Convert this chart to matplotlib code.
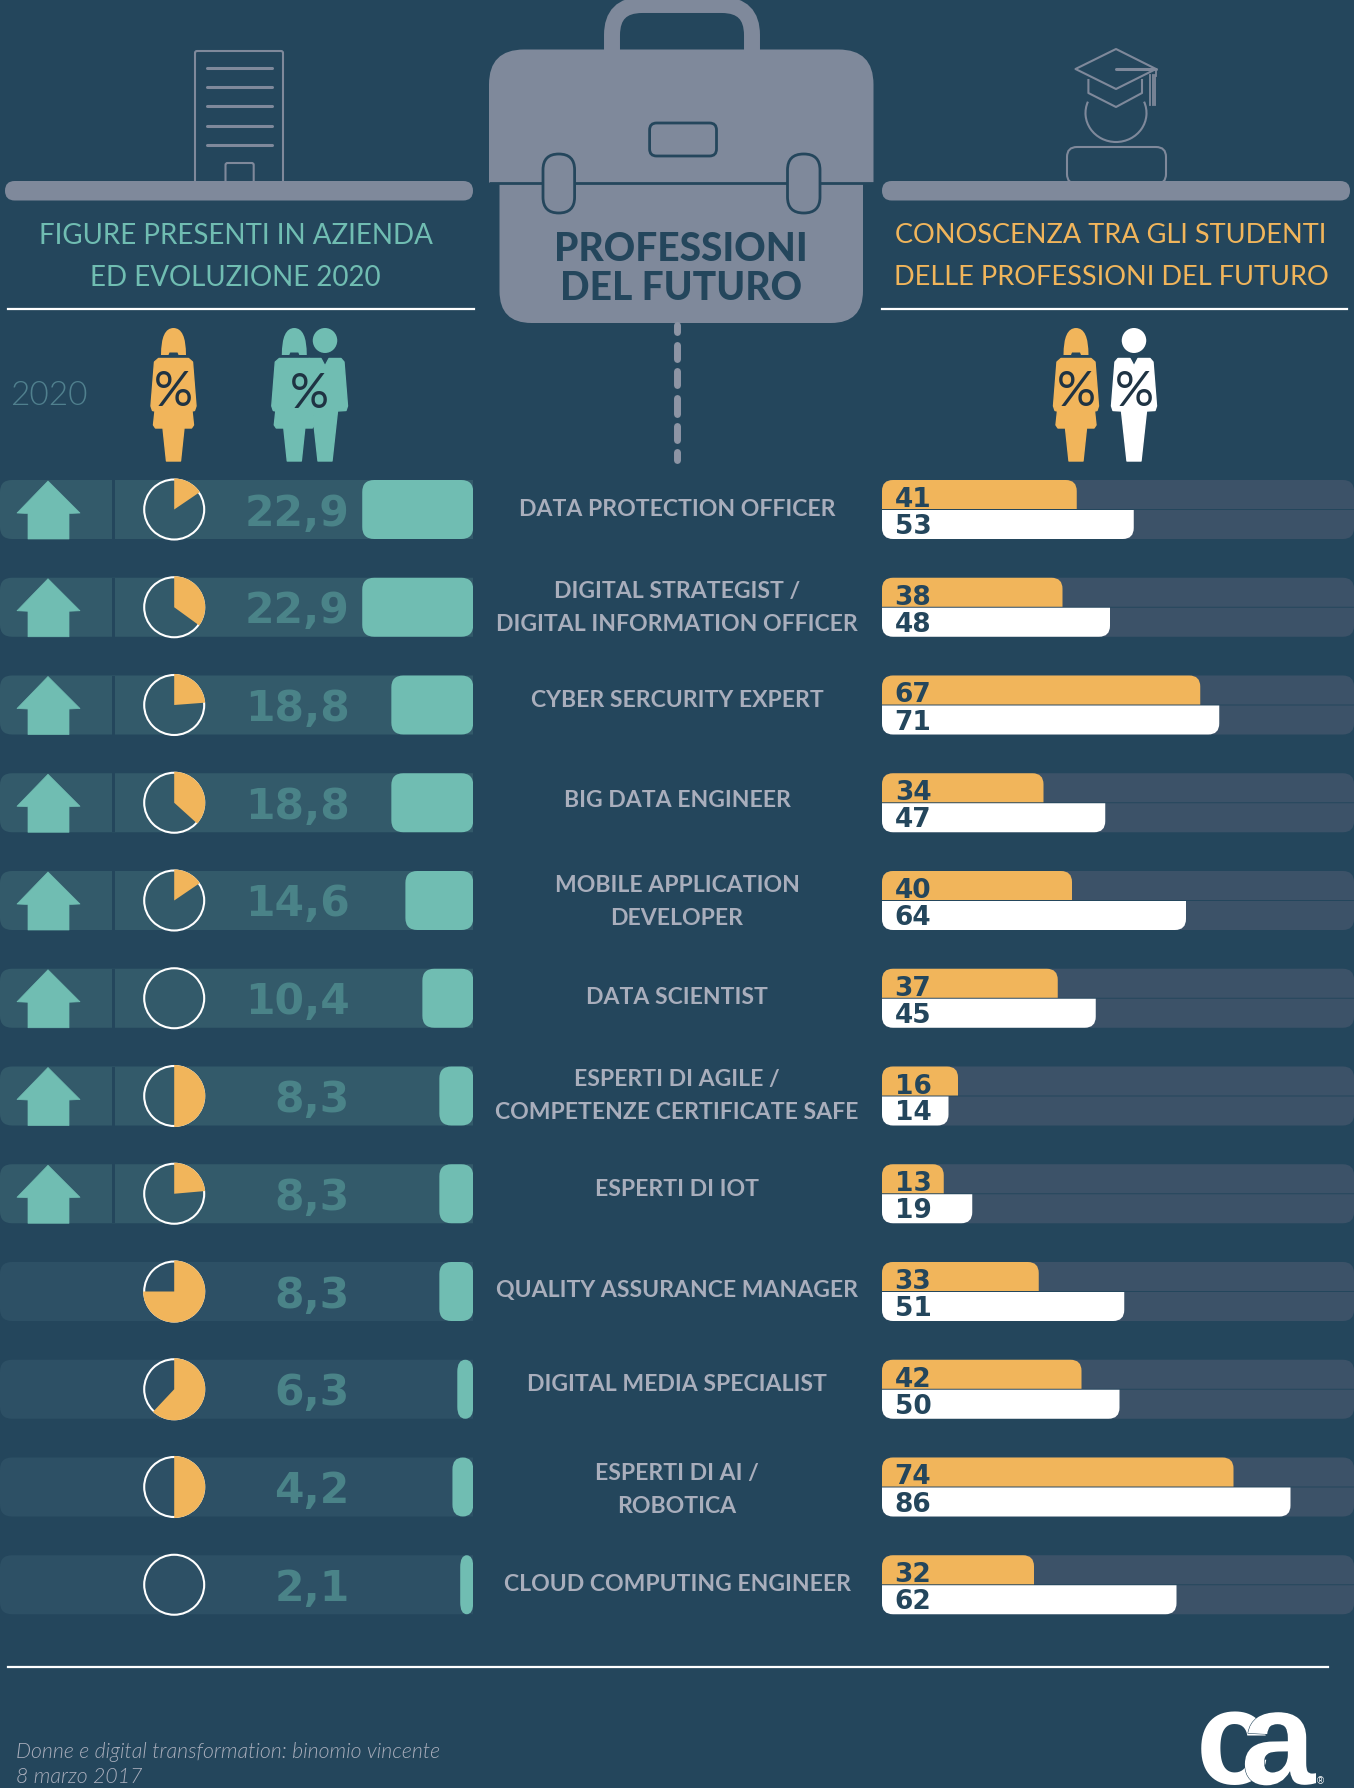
import matplotlib
matplotlib.use("Agg")
import numpy as np
import matplotlib.pyplot as plt
from matplotlib.path import Path
from matplotlib.patches import PathPatch, Polygon, Rectangle, Circle, Ellipse, Arc
import matplotlib.patheffects as pe

# ---------- data ----------
professions = [
    "DATA PROTECTION OFFICER",
    "DIGITAL STRATEGIST /\nDIGITAL INFORMATION OFFICER",
    "CYBER SERCURITY EXPERT",
    "BIG DATA ENGINEER",
    "MOBILE APPLICATION\nDEVELOPER",
    "DATA SCIENTIST",
    "ESPERTI DI AGILE /\nCOMPETENZE CERTIFICATE SAFE",
    "ESPERTI DI IOT",
    "QUALITY ASSURANCE MANAGER",
    "DIGITAL MEDIA SPECIALIST",
    "ESPERTI DI AI /\nROBOTICA",
    "CLOUD COMPUTING ENGINEER",
]
presence_2020 = ["22,9", "22,9", "18,8", "18,8", "14,6", "10,4", "8,3", "8,3", "8,3", "6,3", "4,2", "2,1"]
# bar lengths as drawn in the source (they do not follow the printed labels exactly)
presence_bar_drawn = [22.9, 22.9, 16.9, 16.9, 14.0, 10.5, 7.0, 7.0, 7.0, 3.3, 4.3, 2.7]
women_share = [0.155, 0.35, 0.238, 0.367, 0.155, 0.0, 0.5, 0.236, 0.75, 0.62, 0.5, 0.0]
growing = [True] * 8 + [False] * 4
students_women = [41, 38, 67, 34, 40, 37, 16, 13, 33, 42, 74, 32]
students_men = [53, 48, 71, 47, 64, 45, 14, 19, 51, 50, 86, 62]

# ---------- style / layout ----------
BG = "#24465C"
BAND_A = "#335A6A"
BAND_B = "#2D5065"
BAND_R = "#3C5268"
TEAL = "#70BDB2"
ORANGE = "#F1B55B"
GRAY = "#7F899B"
LABEL = "#A9AEBC"
NUM = "#4A8388"
W, H = 1354, 1788
ROW0, PITCH, HALF = 509.5, 97.75, 29.5
LEFT_RIGHT_EDGE = 473.3
LEFT_SCALE = 4.85      # px per unit
RIGHT_X0 = 882.0
RIGHT_SCALE = 4.75     # px per unit
label_nudge = [-2, -1.5, -6, -4.5, 0, -3, -2, -6, -2.5, -6.5, 1.5, -2.5]

NARROW = "Lato"
NUMFONT = "DejaVu Sans"

fig = plt.figure(figsize=(W / 100, H / 100), dpi=100, facecolor=BG)


def px_axes(x0, y0, x1, y1, z=1):
    a = fig.add_axes([x0 / W, 1 - y1 / H, (x1 - x0) / W, (y1 - y0) / H], zorder=z)
    a.patch.set_alpha(0)
    a.set_axis_off()
    return a


ax = px_axes(0, 0, W, H, z=5)
ax.set_xlim(0, W)
ax.set_ylim(H, 0)


def rpath(x0, x1, y0, y1, rx, ry, corners=(1, 1, 1, 1)):
    """Rectangle path; corners = (y0-x0, y0-x1, y1-x1, y1-x0) rounded flags."""
    sx = 1 if x1 >= x0 else -1
    sy = 1 if y1 >= y0 else -1
    rx, ry = abs(rx) * sx, abs(ry) * sy
    v, c = [], []

    def add(p, code):
        v.append(p)
        c.append(code)

    if corners[0]:
        add((x0, y0 + ry), Path.MOVETO); add((x0, y0), Path.CURVE3); add((x0 + rx, y0), Path.CURVE3)
    else:
        add((x0, y0), Path.MOVETO)
    if corners[1]:
        add((x1 - rx, y0), Path.LINETO); add((x1, y0), Path.CURVE3); add((x1, y0 + ry), Path.CURVE3)
    else:
        add((x1, y0), Path.LINETO)
    if corners[2]:
        add((x1, y1 - ry), Path.LINETO); add((x1, y1), Path.CURVE3); add((x1 - rx, y1), Path.CURVE3)
    else:
        add((x1, y1), Path.LINETO)
    if corners[3]:
        add((x0 + rx, y1), Path.LINETO); add((x0, y1), Path.CURVE3); add((x0, y1 - ry), Path.CURVE3)
    else:
        add((x0, y1), Path.LINETO)
    add((x0, y0), Path.CLOSEPOLY)
    return Path(v, c)


def box(a, x0, x1, y0, y1, r, fc="none", ec="none", lw=0, corners=(1, 1, 1, 1), z=2, ry=None):
    p = PathPatch(rpath(x0, x1, y0, y1, r, r if ry is None else ry, corners), fc=fc, ec=ec, lw=lw, zorder=z)
    a.add_patch(p)
    return p


def ptxt(x, y_center, s, px_cap, cap_ratio=0.72, **kw):
    """text with capitals centred on y_center; size from cap height in px."""
    em = px_cap / cap_ratio
    kw.setdefault("ha", "center")
    return ax.text(x, y_center + px_cap / 2, s, fontsize=em * 0.72, va="baseline", **kw)


# ---------- top icons ----------
LW2 = 1.5
# building
box(ax, 195, 283, 51, 184, 2, ec=GRAY, lw=LW2)
for y in [67.5, 86.5, 106, 125.5, 144.5]:
    ax.plot([207, 272], [y, y], color=GRAY, lw=2.2, solid_capstyle="round")
box(ax, 225.5, 253.7, 163, 184, 2, ec=GRAY, lw=LW2)
# shelves
box(ax, 5, 473, 181, 200.5, 9.7, fc=GRAY, z=3)
box(ax, 882, 1350, 181, 200.5, 9.7, fc=GRAY, z=3)
# graduate
ax.add_patch(Polygon([(1075.5, 69), (1116, 49), (1156, 69), (1116, 89)], closed=True, fc="none", ec=GRAY, lw=LW2, joinstyle="round"))
ax.plot([1116, 1156], [69, 69], color=GRAY, lw=2.2, solid_capstyle="round")
ax.plot([1088.4, 1088.4, 1116, 1142, 1142], [80, 93, 107, 93, 80], color=GRAY, lw=LW2, solid_joinstyle="round")
for x in [1150, 1152.5, 1155]:
    ax.plot([x, x], [75, 105], color=GRAY, lw=1.3)
ax.plot([1156, 1156], [69, 76], color=GRAY, lw=1.3)
ax.add_patch(Arc((1116, 113), 61, 58, theta1=-22, theta2=202, ec=GRAY, lw=LW2))
box(ax, 1067, 1166, 147, 184, 10, ec=GRAY, lw=LW2)

# briefcase
ax.add_patch(PathPatch(rpath(612, 752, 5, 60, 30, 30, (1, 1, 0, 0)), fc="none", ec=GRAY, lw=11.5, zorder=1))
box(ax, 489, 873.5, 49.5, 183, 35, fc=GRAY, corners=(1, 1, 0, 0), z=2)
box(ax, 499.5, 863, 183, 323, 32, fc=GRAY, corners=(0, 0, 1, 1), z=2)
ax.plot([489, 873.5], [183, 183], color=BG, lw=2, zorder=3, solid_capstyle="butt")
box(ax, 543, 574.6, 154, 213, 15.8, fc=GRAY, ec=BG, lw=2, z=4)
box(ax, 787.5, 820, 154, 213, 16, fc=GRAY, ec=BG, lw=2, z=4)
box(ax, 649.6, 716.5, 123, 156, 7, fc=GRAY, ec=BG, lw=2, z=4)
ptxt(681, 247, "PROFESSIONI", 28, family="Lato", fontweight=900, color=BG, zorder=5)
ptxt(681, 285.5, "DEL FUTURO", 28, family="Lato", fontweight=900, color=BG, zorder=5)
for a, b in [(322, 335), (342, 362), (368, 388), (395, 417), (423, 443), (449, 463)]:
    ax.plot([677, 677], [a + 3, b - 3], color="#8D95A5", lw=5, solid_capstyle="round")

# titles
TW = 400
ptxt(235.5, 233.5, "FIGURE PRESENTI IN AZIENDA", 20, family=NARROW, fontweight=TW, color=TEAL)
ptxt(235.5, 275.5, "ED EVOLUZIONE 2020", 20, family=NARROW, fontweight=TW, color=TEAL)
ptxt(1111, 233.5, "CONOSCENZA TRA GLI STUDENTI", 19.5, family=NARROW, fontweight=TW, color=ORANGE)
ptxt(1111, 275.5, "DELLE PROFESSIONI DEL FUTURO", 19.5, family=NARROW, fontweight=TW, color=ORANGE)
ax.plot([8, 474], [309, 309], color="white", lw=1.6)
ax.plot([882, 1347], [309, 309], color="white", lw=1.6)
ax.plot([8, 1328], [1667, 1667], color="white", lw=1.6)
ptxt(49, 393, "2020", 24, family=NARROW, fontweight=300, color="#50808E")


# ---------- people ----------
def woman(cx, color):
    hair = Path(
        [(cx - 12.5, 355), (cx - 12.5, 328), (cx, 328), (cx + 12.5, 328), (cx + 12.5, 355),
         (cx + 5, 355), (cx + 4, 352.5), (cx - 4, 352.5), (cx - 5, 355), (cx - 12.5, 355)],
        [Path.MOVETO, Path.CURVE3, Path.CURVE3, Path.CURVE3, Path.CURVE3,
         Path.LINETO, Path.LINETO, Path.LINETO, Path.LINETO, Path.CLOSEPOLY])
    ax.add_patch(PathPatch(hair, fc=color, ec="none"))
    pts = [(-15, 358.5), (15, 358.5), (19, 362), (22.5, 406), (21, 410.5), (18.5, 411), (20, 425), (18, 428),
           (10.5, 428), (7, 461), (-7, 461), (-10.5, 428), (-18, 428), (-20, 425), (-18.5, 411), (-21, 410.5),
           (-22.5, 406), (-19, 362)]
    ax.add_patch(Polygon([(cx + a, b) for a, b in pts], closed=True, fc=color, ec=color, lw=1, joinstyle="round"))


def man(cx, color):
    ax.add_patch(Ellipse((cx, 340.5), 24.5, 25, fc=color, ec="none"))
    pts = [(-16, 358.5), (-4, 358.5), (0, 366), (4, 358.5), (16, 358.5), (19, 362), (22.5, 406), (21, 410.5),
           (12.5, 411), (7, 461), (-7, 461), (-12.5, 411), (-21, 410.5), (-22.5, 406), (-19, 362)]
    ax.add_patch(Polygon([(cx + a, b) for a, b in pts], closed=True, fc=color, ec=color, lw=1, joinstyle="round"))


woman(173.5, ORANGE)
man(325, TEAL)
woman(294.3, TEAL)
woman(1076, ORANGE)
man(1134, "white")
for x, y in [(173.5, 389), (309.5, 391), (1076.5, 389), (1134, 389)]:
    ptxt(x, y, "%", 35, family=NARROW, fontweight=400, color="#1F3343", zorder=6)

# ---------- left panel: presence in companies ----------
left = px_axes(0, 460, LEFT_RIGHT_EDGE, 1640, z=1)
left.set_xlim(LEFT_RIGHT_EDGE / LEFT_SCALE, 0)          # values grow leftwards from the right edge
left.set_ylim((1640 - ROW0) / PITCH, (460 - ROW0) / PITCH)
half = HALF / PITCH
xmax = LEFT_RIGHT_EDGE / LEFT_SCALE
for i, val in enumerate(presence_bar_drawn):
    band = BAND_A if growing[i] else BAND_B
    p = PathPatch(rpath(xmax, 0, i - half, i + half, 12 / LEFT_SCALE, 12 / PITCH, (1, 0, 0, 1)), fc=band, ec="none", zorder=1)
    left.add_patch(p)
    r = min(12, val * LEFT_SCALE / 2)
    left.add_patch(PathPatch(rpath(val, 0, i - half, i + half, r / LEFT_SCALE, 12 / PITCH), fc=TEAL, ec="none", zorder=3))

for i, (txt, up) in enumerate(zip(presence_2020, growing)):
    cy = ROW0 + i * PITCH
    top = cy - HALF
    if up:
        ax.add_patch(Rectangle((112, top), 3, 2 * HALF, fc=BG, ec="none", zorder=4))
        house = [(48, top + 1), (80, top + 33), (69, top + 33.5), (69, top + 59), (28, top + 59), (28, top + 33.5), (17, top + 33)]
        ax.add_patch(Polygon(house, closed=True, fc=TEAL, ec=TEAL, lw=0.5, joinstyle="round", zorder=5))
    ax.text(349.5, cy + 16, txt, fontsize=30.5, family=NUMFONT, fontweight="bold", color=NUM, ha="right", va="baseline", zorder=5)
    # women's share pie
    pa = px_axes(174.2 - 34, cy - 34, 174.2 + 34, cy + 34, z=6)
    pa.add_patch(Circle((0, 0), 30, fc="none", ec="white", lw=1.5, zorder=1))
    wedges, _ = pa.pie([women_share[i], 1 - women_share[i]], colors=[ORANGE, "none"], startangle=90,
                       counterclock=False, radius=31, wedgeprops=dict(lw=0, zorder=2))
    pa.set_xlim(-34, 34)
    pa.set_ylim(-34, 34)
    pa.set_aspect("equal")

# ---------- centre labels ----------
for i, lab in enumerate(professions):
    lines = lab.split("\n")
    cy = ROW0 + i * PITCH + label_nudge[i]
    for j, line in enumerate(lines):
        y = cy + (j - (len(lines) - 1) / 2) * 33
        ptxt(677, y, line, 16.6, family=NARROW, fontweight="bold", color=LABEL, zorder=5)

# ---------- right panel: student awareness ----------
right = px_axes(RIGHT_X0, 460, W, 1640, z=1)
rmax = (W - RIGHT_X0) / RIGHT_SCALE
right.set_xlim(0, rmax)
right.set_ylim((1640 - ROW0) / PITCH, (460 - ROW0) / PITCH)
rx = 11 / RIGHT_SCALE
ry = 11 / PITCH
gap = 0.5 / PITCH
for i, (f, m) in enumerate(zip(students_women, students_men)):
    right.add_patch(PathPatch(rpath(0, rmax, i - half, i - gap, rx, ry, (1, 1, 0, 0)), fc=BAND_R, ec="none", zorder=1))
    right.add_patch(PathPatch(rpath(0, rmax, i + gap, i + half, rx, ry, (0, 0, 1, 1)), fc=BAND_R, ec="none", zorder=1))
    right.add_patch(PathPatch(rpath(0, f, i - half, i - gap, rx, ry, (1, 1, 0, 0)), fc=ORANGE, ec="none", zorder=2))
    right.add_patch(PathPatch(rpath(0, m, i + gap, i + half, rx, ry, (0, 0, 1, 1)), fc="white", ec="none", zorder=2))
    right.text(31 / RIGHT_SCALE, i - 12.5 / PITCH + 10 / PITCH, str(f), family=NUMFONT, fontweight="bold", fontsize=19,
               color=BG, ha="center", va="baseline", zorder=3)
    right.text(31 / RIGHT_SCALE, i + 14.5 / PITCH + 10 / PITCH, str(m), family=NUMFONT, fontweight="bold", fontsize=19,
               color=BG, ha="center", va="baseline", zorder=3)

# ---------- footer ----------
ax.text(15.5, 1758, "Donne e digital transformation: binomio vincente", family=NARROW, style="italic", fontweight=300,
        fontsize=15.3, color=LABEL, ha="left", va="baseline")
ax.text(15.5, 1783, "8 marzo 2017", family=NARROW, style="italic", fontweight=300, fontsize=15.3, color=LABEL, ha="left", va="baseline")
LOGO = "Liberation Sans"
ax.text(1196, 1784, "c", family=LOGO, fontweight="bold", fontsize=96, color="white", ha="left", va="baseline", zorder=6)
ax.text(1241, 1784, "a", family=LOGO, fontweight="bold", fontsize=96, color="white", ha="left", va="baseline", zorder=7,
        path_effects=[pe.withStroke(linewidth=0.8, foreground=BG)])
ax.text(1320, 1784, "®", family=LOGO, fontsize=7, color="white", ha="center", va="baseline", zorder=7)

fig.savefig("out.png", dpi=100, facecolor=BG)
